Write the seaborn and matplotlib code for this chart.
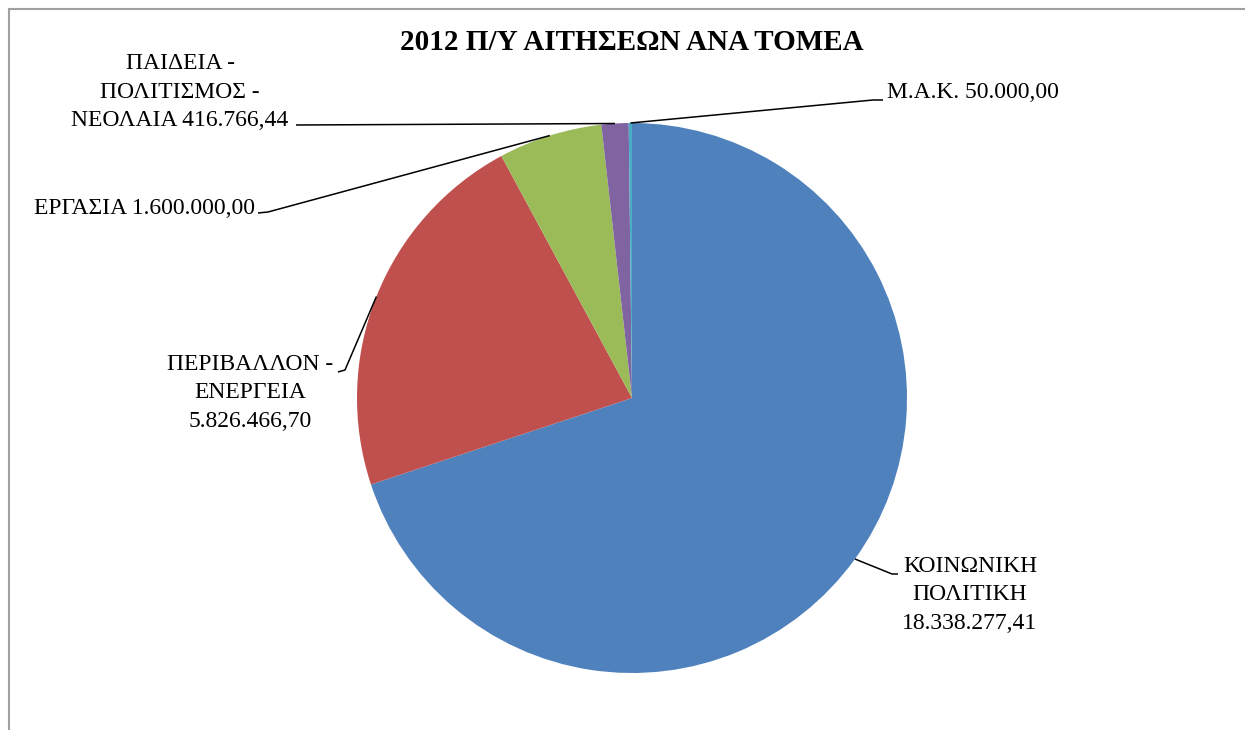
#! /usr/bin/env python
'''
2012 budget of applications per sector - pie chart
'''
# imports
import matplotlib
matplotlib.use('Agg')
import matplotlib.pyplot as plt
from matplotlib.lines import Line2D
import numpy as np
import seaborn as sns

# settings
sns.set_style("white")
plt.rcParams['font.family'] = ['Liberation Serif', 'DejaVu Serif']
plt.rcParams['text.color'] = 'black'

# DATA
sectors = ['ΚΟΙΝΩΝΙΚΗ\nΠΟΛΙΤΙΚΗ', 'ΠΕΡΙΒΑΛΛΟΝ -\nΕΝΕΡΓΕΙΑ', 'ΕΡΓΑΣΙΑ',
           'ΠΑΙΔΕΙΑ -\nΠΟΛΙΤΙΣΜΟΣ -\nΝΕΟΛΑΙΑ', 'Μ.Α.Κ.']
amounts = [18338277.41, 5826466.70, 1600000.00, 416766.44, 50000.00]
colors = ['#4F81BD', '#C0504D', '#9BBB59', '#8064A2', '#4BACC6']
title = '2012 Π/Υ ΑΙΤΗΣΕΩΝ ΑΝΑ ΤΟΜΕΑ'

def greek_fmt(v):
    s = '{:,.2f}'.format(v)
    return s.replace(',', '#').replace('.', ',').replace('#', '.')

labels = [s + ('\n' if i in (0, 1) else ' ') + greek_fmt(v)
          for i, (s, v) in enumerate(zip(sectors, amounts))]

# layout (pixels): pie centre / radius, label text positions and elbows
W, H = 1245, 730
cx, cy, R = 632, 398, 275
# (text x, text y, ha, elbow points...)
label_layout = [
    (970, 595, 'center', [(892, 574), (898, 574)]),
    (250, 393, 'center', [(345, 370), (338, 372)]),
    (255, 208, 'right', [(268, 212), (258, 213)]),
    (180, 92, 'center', [(296, 125)]),
    (887, 93, 'left', [(873, 100), (883, 100)]),
]

def px2data(x, y):
    return (x - cx) / R, (cy - y) / R

fig = plt.figure(figsize=(W / 100, H / 100), dpi=100)
ax = fig.add_axes([(cx - R) / W, (H - cy - R) / H, 2 * R / W, 2 * R / H])
wedges, _ = ax.pie(amounts, colors=colors, startangle=90, counterclock=False,
                   radius=1, wedgeprops=dict(linewidth=0))
ax.set_xlim(-1, 1)
ax.set_ylim(-1, 1)
ax.set_aspect('equal')
ax.axis('off')

for w, lab, (tx, ty, ha, elbows) in zip(wedges, labels, label_layout):
    mid = np.deg2rad((w.theta1 + w.theta2) / 2)
    pts = [(np.cos(mid), np.sin(mid))] + [px2data(*p) for p in elbows]
    xs, ys = zip(*pts)
    ax.plot(xs, ys, color='black', lw=1.1, clip_on=False, solid_capstyle='butt')
    x, y = px2data(tx, ty)
    ax.text(x, y, lab, ha=ha, va='center', multialignment='center',
            fontsize=17, linespacing=1.47, clip_on=False)

fig.text(cx / W, 1 - 43 / H, title, ha='center', va='center',
         fontsize=21, fontweight='bold')

# chart frame (cropped on the right and bottom)
fig.add_artist(Line2D([8.5 / W, 8.5 / W], [0, 1 - 8.5 / H], color='#A0A0A0', lw=1.5))
fig.add_artist(Line2D([8.5 / W, 1], [1 - 8.5 / H, 1 - 8.5 / H], color='#A0A0A0', lw=1.5))

fig.savefig('out.png', dpi=100)
plt.close()
